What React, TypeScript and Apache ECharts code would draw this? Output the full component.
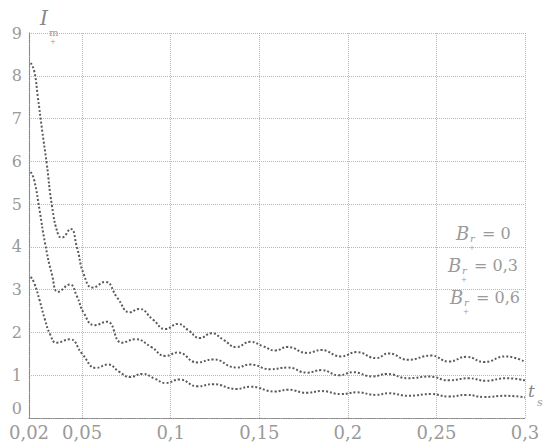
import React, { useEffect, useRef } from "react";
import * as echarts from "echarts";

const xTickValues = [0.02, 0.05, 0.1, 0.15, 0.2, 0.25, 0.3];
const yMax = 9;

// B_r = 0
const curveB0X = [0.021, 0.023, 0.025, 0.0275, 0.03, 0.033, 0.0365, 0.0385, 0.0435, 0.047, 0.051, 0.056, 0.063, 0.07, 0.077, 0.082, 0.09, 0.097, 0.104, 0.11, 0.1165, 0.123, 0.13, 0.137, 0.145, 0.152, 0.159, 0.166, 0.177, 0.185, 0.196, 0.205, 0.216, 0.223, 0.234, 0.247, 0.257, 0.267, 0.277, 0.289, 0.3];
const curveB0Y = [8.3, 8.1, 7.5, 6.7, 5.95, 4.95, 4.28, 4.22, 4.42, 4.0, 3.35, 3.05, 3.18, 2.8, 2.47, 2.55, 2.3, 2.08, 2.2, 2.05, 1.87, 1.98, 1.82, 1.66, 1.78, 1.68, 1.58, 1.66, 1.52, 1.59, 1.44, 1.54, 1.4, 1.51, 1.36, 1.46, 1.32, 1.43, 1.31, 1.44, 1.31];

// B_r = 0,3
const curveB3X = [0.021, 0.023, 0.026, 0.029, 0.033, 0.0365, 0.043, 0.047, 0.051, 0.057, 0.064, 0.0725, 0.08, 0.089, 0.097, 0.104, 0.115, 0.124, 0.137, 0.145, 0.156, 0.166, 0.177, 0.185, 0.195, 0.203, 0.214, 0.222, 0.234, 0.246, 0.257, 0.268, 0.278, 0.289, 0.3];
const curveB3Y = [5.75, 5.55, 4.85, 4.1, 3.35, 2.95, 3.12, 2.85, 2.45, 2.17, 2.25, 1.76, 1.84, 1.66, 1.45, 1.53, 1.3, 1.37, 1.18, 1.25, 1.14, 1.18, 1.06, 1.12, 1.0, 1.07, 0.97, 1.03, 0.93, 0.97, 0.88, 0.93, 0.87, 0.93, 0.88];

// B_r = 0,6
const curveB6X = [0.021, 0.023, 0.026, 0.029, 0.032, 0.0355, 0.043, 0.05, 0.058, 0.0645, 0.071, 0.077, 0.084, 0.091, 0.097, 0.105, 0.115, 0.124, 0.137, 0.145, 0.159, 0.166, 0.177, 0.185, 0.196, 0.205, 0.216, 0.223, 0.234, 0.247, 0.257, 0.267, 0.277, 0.289, 0.3];
const curveB6Y = [3.3, 3.15, 2.75, 2.3, 1.95, 1.76, 1.84, 1.5, 1.17, 1.25, 1.08, 0.96, 1.03, 0.92, 0.82, 0.9, 0.74, 0.79, 0.68, 0.73, 0.62, 0.66, 0.59, 0.63, 0.56, 0.6, 0.54, 0.58, 0.52, 0.56, 0.5, 0.54, 0.49, 0.52, 0.48];

const curveLabels = ["= 0", "= 0,3", "= 0,6"];

export default function App() {
  const ref = useRef<HTMLDivElement>(null);

  useEffect(() => {
    const chart = echarts.init(ref.current!, undefined, { renderer: "svg" });
    const toPairs = (xs: number[], ys: number[]) => xs.map((x, i) => [x, ys[i]]);
    const fmt = (v: number) => String(+Number(v).toFixed(2)).replace(".", ",");
    const grey = "#9a9a9a";
    const serif = '"DejaVu Serif", "Liberation Serif", serif';
    const lineStyle = { color: "#5a5a5a", width: 2, type: "dotted" as const };

    const labelPos = [
      { x: 456, y: 224 },
      { x: 448, y: 256 },
      { x: 450, y: 288 },
    ];
    const graphics: any[] = [];
    labelPos.forEach((p, i) => {
      graphics.push(
        { type: "text", x: p.x, y: p.y, style: { text: "B", fill: grey, font: `italic 18px ${serif}` } },
        { type: "text", x: p.x + 14, y: p.y + 9, style: { text: "r", fill: grey, font: `italic 10px ${serif}` } },
        { type: "text", x: p.x + 13, y: p.y + 20, style: { text: "+", fill: grey, font: `7px ${serif}` } },
        { type: "text", x: p.x + 26, y: p.y + 1, style: { text: curveLabels[i], fill: grey, font: `16px ${serif}` } }
      );
    });
    graphics.push(
      { type: "text", x: 40, y: 8, style: { text: "I", fill: "#888", font: `italic 20px ${serif}` } },
      { type: "text", x: 49, y: 27, style: { text: "m", fill: "#999", font: `10px ${serif}` } },
      { type: "text", x: 50, y: 38, style: { text: "+", fill: "#999", font: `7px ${serif}` } },
      { type: "text", x: 528, y: 382, style: { text: "t", fill: "#888", font: `italic 17px ${serif}` } },
      { type: "text", x: 537, y: 397, style: { text: "s", fill: "#999", font: `italic 11px ${serif}` } }
    );

    chart.setOption({
      animation: false,
      backgroundColor: "#fff",
      grid: { left: 29, right: 22, top: 33, bottom: 28, containLabel: false },
      xAxis: {
        type: "value",
        min: 0.02,
        max: 0.3,
        axisLine: { show: true, lineStyle: { color: "#888", type: "dotted", width: 1.2 } },
        axisTick: { show: true, length: 0, customValues: xTickValues },
        axisLabel: {
          customValues: xTickValues,
          formatter: (v: number) => fmt(v),
          color: grey,
          fontFamily: serif,
          fontSize: 18,
          margin: 5,
        },
        splitLine: { show: true, lineStyle: { color: "#b8b8b8", type: "dotted", width: 1 } },
      },
      yAxis: {
        type: "value",
        min: 0,
        max: yMax,
        interval: 1,
        axisLine: { show: true, lineStyle: { color: "#888", type: "dotted", width: 1.2 } },
        axisTick: { show: false },
        axisLabel: {
          color: grey,
          fontFamily: serif,
          fontSize: 16,
          margin: 7,
          formatter: (v: number) => (v === 0 ? "{z|0}" : String(v)),
          rich: { z: { color: grey, fontFamily: serif, fontSize: 16, padding: [0, 0, 20, 0] } },
        },
        splitLine: { show: true, lineStyle: { color: "#b8b8b8", type: "dotted", width: 1 } },
      },
      series: [
        { type: "line", data: toPairs(curveB0X, curveB0Y), smooth: 0.5, showSymbol: false, lineStyle },
        { type: "line", data: toPairs(curveB3X, curveB3Y), smooth: 0.5, showSymbol: false, lineStyle },
        { type: "line", data: toPairs(curveB6X, curveB6Y), smooth: 0.5, showSymbol: false, lineStyle },
      ],
      graphic: graphics,
    });
    return () => chart.dispose();
  }, []);

  return (
    <div
      ref={ref}
      style={{ position: "fixed", left: 0, top: 0, width: 547, height: 446, background: "#fff" }}
    />
  );
}
